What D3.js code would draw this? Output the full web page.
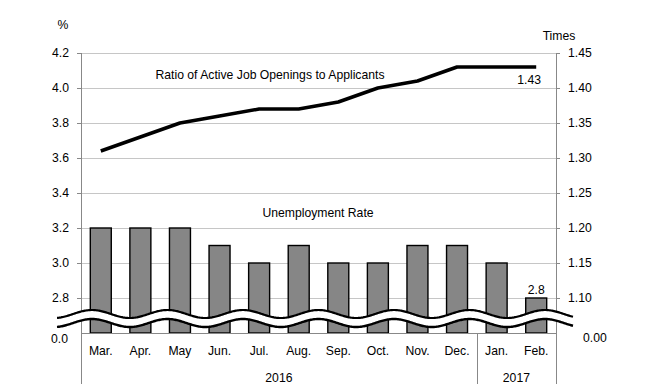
<!DOCTYPE html>
<meta charset="utf-8">
<script src="https://cdnjs.cloudflare.com/ajax/libs/d3/7.3.0/d3.min.js"></script>
<style>
  body { margin: 0; background: #fff; }
  text { font-family: "Liberation Sans", Arial, sans-serif; font-size: 12.2px; fill: #000; }
</style>
<div id="my_dataviz"></div>
<script>
    // data
    const months = ["Mar.", "Apr.", "May", "Jun.", "Jul.", "Aug.", "Sep.", "Oct.", "Nov.", "Dec.", "Jan.", "Feb."]
    const unemployment = [3.2, 3.2, 3.2, 3.1, 3.0, 3.1, 3.0, 3.0, 3.1, 3.1, 3.0, 2.8]
    const ratio = [1.31, 1.33, 1.35, 1.36, 1.37, 1.37, 1.38, 1.40, 1.41, 1.43, 1.43, 1.43]
    const leftTicks = [2.8, 3.0, 3.2, 3.4, 3.6, 3.8, 4.0, 4.2]
    const rightTicks = [1.10, 1.15, 1.20, 1.25, 1.30, 1.35, 1.40, 1.45]
    const years = [{ label: "2016", from: 0, to: 9 }, { label: "2017", from: 10, to: 11 }]

    // note: "top" is taken by window.top, so use plot* names
    var W = 647, H = 390
    var plotLeft = 81, plotRight = 556, plotTop = 53, base = 333

    var svg = d3.select("#my_dataviz")
        .append("svg")
        .attr("width", W)
        .attr("height", H)

    var x = d3.scaleBand()
        .domain(months)
        .range([plotLeft, plotRight])
        .paddingInner(0.47)
        .paddingOuter(0.235)

    var y = d3.scaleLinear()
        .domain([2.6, 4.2])
        .range([base, plotTop])

    var y2 = d3.scaleLinear()
        .domain([1.05, 1.45])
        .range([base, plotTop])

    // gridlines
    svg.append("g")
        .selectAll("line")
        .data(leftTicks)
        .join("line")
        .attr("x1", plotLeft).attr("x2", plotRight)
        .attr("y1", d => Math.round(y(d)) + 0.5)
        .attr("y2", d => Math.round(y(d)) + 0.5)
        .attr("stroke", "#c6c6c6")

    // bars
    svg.append("g")
        .selectAll("rect")
        .data(unemployment)
        .join("rect")
        .attr("x", (d, i) => x(months[i]))
        .attr("width", x.bandwidth())
        .attr("y", d => y(d))
        .attr("height", d => base - y(d))
        .attr("fill", "#868686")
        .attr("stroke", "#000")
        .attr("stroke-width", 1.4)

    // axis lines
    svg.append("line")
        .attr("x1", plotLeft).attr("x2", plotRight)
        .attr("y1", base + 0.5).attr("y2", base + 0.5)
        .attr("stroke", "#888")
    svg.append("line")
        .attr("x1", plotLeft + 0.5).attr("x2", plotLeft + 0.5)
        .attr("y1", plotTop).attr("y2", 384)
        .attr("stroke", "#888")
    svg.append("line")
        .attr("x1", plotRight + 0.5).attr("x2", plotRight + 0.5)
        .attr("y1", plotTop).attr("y2", 384)
        .attr("stroke", "#888")
    // year separator
    var sep = x(months[10]) - x.step() * x.paddingInner() / 2
    svg.append("line")
        .attr("x1", Math.round(sep) + 0.5).attr("x2", Math.round(sep) + 0.5)
        .attr("y1", base).attr("y2", 384)
        .attr("stroke", "#888")

    // small ticks
    svg.append("g").selectAll("line")
        .data(leftTicks)
        .join("line")
        .attr("x1", plotLeft - 4).attr("x2", plotLeft)
        .attr("y1", d => Math.round(y(d)) + 0.5).attr("y2", d => Math.round(y(d)) + 0.5)
        .attr("stroke", "#888")
    svg.append("g").selectAll("line")
        .data(rightTicks)
        .join("line")
        .attr("x1", plotRight).attr("x2", plotRight + 4)
        .attr("y1", d => Math.round(y2(d)) + 0.5).attr("y2", d => Math.round(y2(d)) + 0.5)
        .attr("stroke", "#888")

    // broken axis wave
    var wave = d3.range(57, 574, 1).map(function (px) {
        return [px, 314 - 4 * Math.cos(2 * Math.PI * (px - 92) / 75.5)]
    })
    var waveArea = d3.area()
        .x(d => d[0])
        .y0(d => d[1])
        .y1(d => d[1] + 9)
    svg.append("path")
        .datum(wave)
        .attr("fill", "#fff")
        .attr("d", waveArea)
    var waveLine = d3.line().x(d => d[0]).y(d => d[1])
    svg.append("path")
        .datum(wave)
        .attr("fill", "none").attr("stroke", "#000").attr("stroke-width", 2.2)
        .attr("d", waveLine)
    svg.append("path")
        .datum(wave.map(d => [d[0], d[1] + 9]))
        .attr("fill", "none").attr("stroke", "#000").attr("stroke-width", 2.4)
        .attr("d", waveLine)

    // ratio line
    svg.append("path")
        .datum(ratio)
        .attr("fill", "none")
        .attr("stroke", "#000")
        .attr("stroke-width", 3.5)
        .attr("stroke-linejoin", "round")
        .attr("d", d3.line()
            .x((d, i) => x(months[i]) + x.bandwidth() / 2)
            .y(d => y2(d))
        )

    // left tick labels
    svg.append("g").selectAll("text")
        .data(leftTicks)
        .join("text")
        .attr("x", 69)
        .attr("y", d => y(d) + 4)
        .attr("text-anchor", "end")
        .text(d => d.toFixed(1))
    svg.append("text").attr("x", 68).attr("y", 343).attr("text-anchor", "end").text("0.0")

    // right tick labels
    svg.append("g").selectAll("text")
        .data(rightTicks)
        .join("text")
        .attr("x", 568)
        .attr("y", d => y2(d) + 4)
        .text(d => d.toFixed(2))
    svg.append("text").attr("x", 583).attr("y", 342).text("0.00")

    // units
    svg.append("text").attr("x", 63).attr("y", 29).attr("text-anchor", "middle").text("%")
    svg.append("text").attr("x", 559).attr("y", 40).attr("text-anchor", "middle").text("Times")

    // month labels
    svg.append("g").selectAll("text")
        .data(months)
        .join("text")
        .attr("x", d => x(d) + x.bandwidth() / 2)
        .attr("y", 355)
        .attr("text-anchor", "middle")
        .text(d => d)

    // year labels
    svg.append("g").selectAll("text")
        .data(years)
        .join("text")
        .attr("x", function (d) {
            var a = d.from == 0 ? plotLeft : sep
            var b = d.to == months.length - 1 ? plotRight : sep
            return (a + b) / 2
        })
        .attr("y", 382)
        .attr("text-anchor", "middle")
        .text(d => d.label)

    // series titles and data labels
    svg.append("text").attr("x", 270).attr("y", 79).attr("text-anchor", "middle")
        .text("Ratio of Active Job Openings to Applicants")
    svg.append("text").attr("x", 318).attr("y", 217).attr("text-anchor", "middle")
        .text("Unemployment  Rate")
    svg.append("text")
        .attr("x", x(months[11]) + x.bandwidth() / 2 - 7)
        .attr("y", y2(ratio[11]) + 17)
        .attr("text-anchor", "middle")
        .text(ratio[11].toFixed(2))
    svg.append("text")
        .attr("x", x(months[11]) + x.bandwidth() / 2)
        .attr("y", y(unemployment[11]) - 4)
        .attr("text-anchor", "middle")
        .text(unemployment[11].toFixed(1))
</script>
